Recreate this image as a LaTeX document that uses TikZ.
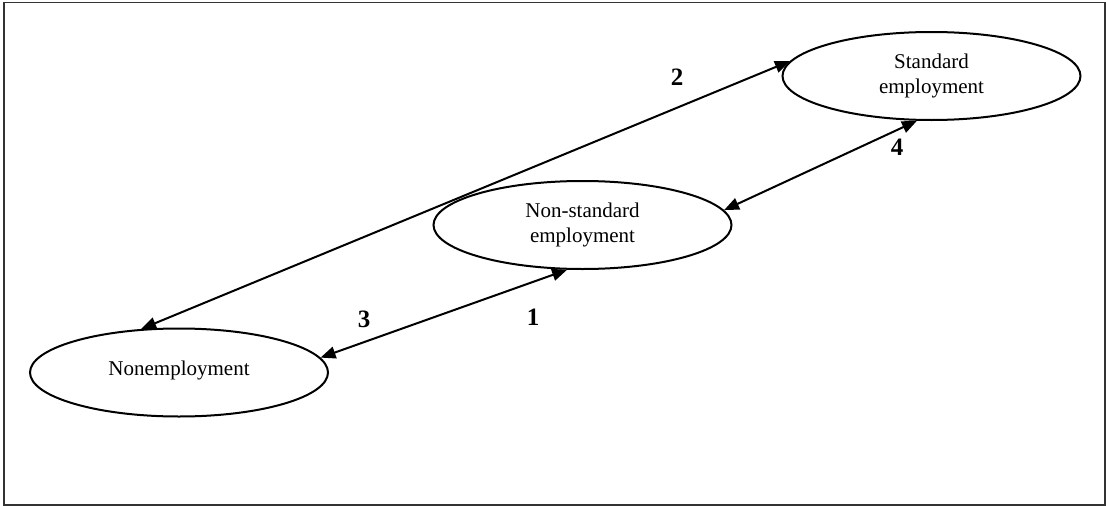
\documentclass[tikz,border=0pt]{standalone}
\usepackage{fontspec}
\setmainfont{Liberation Serif}
\usetikzlibrary{shapes.geometric,arrows.meta}
\begin{document}
\begin{tikzpicture}[x=1pt,y=-1pt,
  ell/.style={ellipse,draw,line width=2pt,minimum width=298pt,minimum height=88pt,inner sep=0pt,align=center,
    font=\fontsize{21}{24.5}\selectfont},
  conn/.style={line width=2pt,{Triangle[length=15pt,width=12pt]}-{Triangle[length=15pt,width=12pt]}},
  num/.style={font=\fontsize{25}{28}\selectfont\bfseries,inner sep=0pt}]
\useasboundingbox (0,0) rectangle (1106,506);
\draw[line width=1.5pt,black!80] (4,2.5) rectangle (1105,505);
\node[ell] (std) at (931.5,76) {Standard\\employment};
\node[ell] (nsd) at (582.5,225) {Non-standard\\employment};
\node[ell] (none) at (179,372.5) {\raisebox{9pt}{Nonemployment}};
\draw[conn] (none.131) -- (std.174.5);
\draw[conn] (none.6) -- (nsd.-109.8);
\draw[conn] (nsd.6.5) -- (std.-108);
\node[num] (l2) at (677,77) {2};
\node[num] (l4) at (897,147) {4};
\node[num] (l3) at (364,319) {3};
\node[num] (l1) at (533,317) {1};
\end{tikzpicture}
\end{document}
